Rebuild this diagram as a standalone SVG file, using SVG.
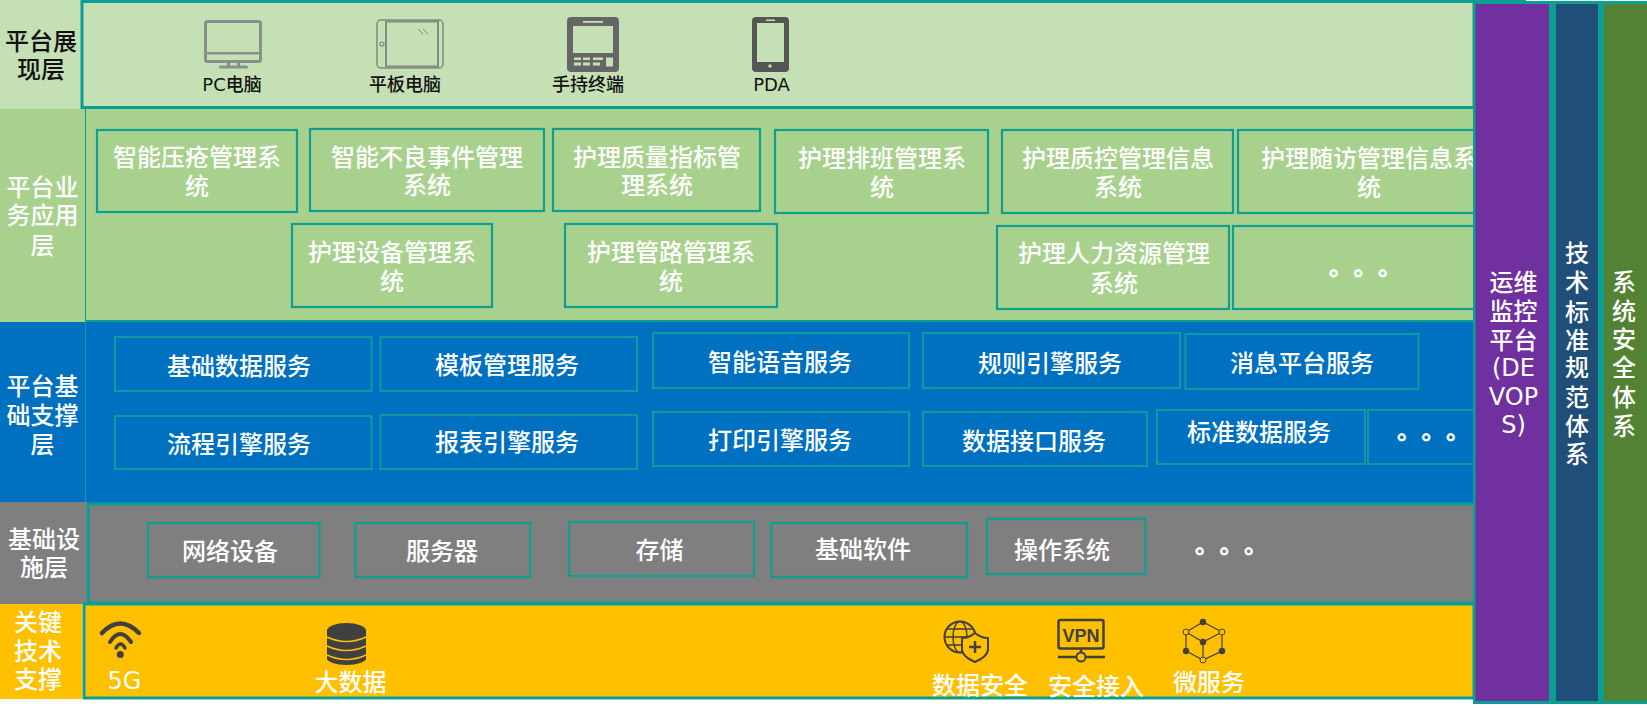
<svg xmlns="http://www.w3.org/2000/svg" width="1647" height="708" viewBox="0 0 1647 708">
<style>
text{font-family:"Noto Sans CJK SC","Noto Sans",sans-serif;text-anchor:middle;font-size:24px;fill:#fff;font-weight:500}
.d{fill:#111}
.s{font-size:18px;fill:#111}
.lat{font-family:"DejaVu Sans","Noto Sans CJK SC",sans-serif}
.dots{text-anchor:start;text-spacing-trim:space-all;letter-spacing:.5px;stroke:#fff;stroke-width:.7px}
.b{fill:none;stroke:#0f9f90;stroke-width:2.200}
.c{fill:none;stroke:#0f9aa0;stroke-width:2}
.p{stroke:#0a9f92;stroke-width:3}
.g1{fill:none;stroke:#86918a;stroke-width:3}
.k{fill:#404040}
.ks{fill:none;stroke:#404040;stroke-linecap:round}
</style>
<rect width="1647" height="708" fill="#fff"/>
<g id="layer-display">
<rect x="0" y="0" width="82" height="109" fill="#c5e0b4"/>
<rect x="82" y="1.500" width="1392" height="106" fill="#c5e0b4" class="p"/>
<text class="d"><tspan x="41" y="50">平台展</tspan><tspan x="41" y="78">现层</tspan></text>
</g>
<g id="layer-app">
<rect x="0" y="109" width="1474" height="213" fill="#a9d18e"/>
<rect x="85" y="109" width="1" height="213" fill="#0f9f90"/>
<rect x="85" y="320" width="1389" height="3" fill="#0a9f92"/>
<text><tspan x="42.500" y="196">平台业</tspan><tspan x="42.500" y="224">务应用</tspan><tspan x="42.500" y="254">层</tspan></text>
</g>
<g id="layer-base">
<rect x="0" y="322" width="1474" height="181" fill="#0070c0"/>
<rect x="85" y="322" width="1" height="181" fill="#0f9f90"/>
<text><tspan x="42.500" y="395">平台基</tspan><tspan x="42.500" y="424">础支撑</tspan><tspan x="42.500" y="453">层</tspan></text>
</g>
<g id="layer-infra">
<rect x="0" y="502" width="87" height="102" fill="#7f7f7f"/>
<rect x="88.500" y="504" width="1386" height="99" fill="#7f7f7f" class="p"/>
<text><tspan x="44" y="548">基础设</tspan><tspan x="44" y="576">施层</tspan></text>
</g>
<g id="layer-tech">
<rect x="0" y="604" width="82" height="95" fill="#ffc000"/>
<rect x="84" y="604" width="1390" height="94" fill="#ffc000" class="p"/>
<text><tspan x="38" y="631">关键</tspan><tspan x="38" y="660">技术</tspan><tspan x="38" y="688">支撑</tspan></text>
</g>

<g id="device-pc">
<rect x="205.500" y="21.500" width="55" height="40" rx="2" class="g1"/>
<rect x="205" y="52" width="56" height="2.500" fill="#86918a"/>
<rect x="227" y="62" width="3" height="5" fill="#86918a"/><rect x="237" y="62" width="3" height="5" fill="#86918a"/>
<rect x="219" y="65.500" width="29" height="3" rx="1.500" fill="#86918a"/>
<text class="s lat" x="232" y="91">PC电脑</text>
</g>
<g id="device-tablet">
<rect x="377" y="20" width="66" height="48" rx="4" fill="none" stroke="#7f8a80" stroke-width="1.500"/>
<rect x="386" y="21.500" width="52" height="45" fill="none" stroke="#7f8a80" stroke-width="2"/>
<circle cx="382" cy="44" r="2" fill="none" stroke="#7f8a80" stroke-width="1.200"/>
<path d="M418 29l5 5M423 29l5 5" stroke="#7f8a80" stroke-width="1" fill="none"/>
<text class="s" x="405" y="91">平板电脑</text>
</g>
<g id="device-handheld">
<path fill="#666" fill-rule="evenodd" d="M571 17h44a4 4 0 0 1 4 4v47a4 4 0 0 1-4 4h-44a4 4 0 0 1-4-4v-47a4 4 0 0 1 4-4zM573 26v27h40v-27z"/>
<rect x="583" y="21" width="20" height="1.800" fill="#c5e0b4"/>
<g fill="#c5e0b4"><rect x="574" y="57.500" width="7" height="2.500"/><rect x="583" y="57.500" width="7" height="2.500"/><rect x="593" y="57.500" width="10" height="2.500"/><rect x="574" y="62.500" width="7" height="3"/><rect x="583" y="62.500" width="7" height="3"/><rect x="593" y="62.500" width="7" height="3"/><rect x="606" y="57.500" width="7" height="9"/></g>
<text class="s" x="588" y="91">手持终端</text>
</g>
<g id="device-pda">
<path fill="#555" fill-rule="evenodd" d="M756 17h29a4 4 0 0 1 4 4v47a4 4 0 0 1-4 4h-29a4 4 0 0 1-4-4v-47a4 4 0 0 1 4-4zM757 23v39h27v-39z"/>
<rect x="766" y="19.500" width="9" height="1.500" fill="#c5e0b4"/>
<circle cx="770" cy="66" r="1.700" fill="#c5e0b4"/>
<text class="s lat" x="771.500" y="91">PDA</text>
</g>

<g id="app-1"><rect x="97" y="130" width="200" height="82" class="b"/><text><tspan x="197" y="166">智能压疮管理系</tspan><tspan x="197" y="195">统</tspan></text></g>
<g id="app-2"><rect x="310" y="129" width="234" height="82" class="b"/><text><tspan x="427" y="166">智能不良事件管理</tspan><tspan x="427" y="194">系统</tspan></text></g>
<g id="app-3"><rect x="553" y="129" width="207" height="82" class="b"/><text><tspan x="657" y="166">护理质量指标管</tspan><tspan x="657" y="194">理系统</tspan></text></g>
<g id="app-4"><rect x="775" y="130" width="213" height="83" class="b"/><text><tspan x="882" y="167">护理排班管理系</tspan><tspan x="882" y="196">统</tspan></text></g>
<g id="app-5"><rect x="1002" y="130" width="231" height="83" class="b"/><text><tspan x="1118" y="167">护理质控管理信息</tspan><tspan x="1118" y="196">系统</tspan></text></g>
<g id="app-6"><rect x="1238" y="130" width="240" height="83" class="b"/><text><tspan x="1369" y="167">护理随访管理信息系</tspan><tspan x="1369" y="196">统</tspan></text></g>
<g id="app-7"><rect x="292" y="224" width="200" height="83" class="b"/><text><tspan x="392" y="261">护理设备管理系</tspan><tspan x="392" y="290">统</tspan></text></g>
<g id="app-8"><rect x="565" y="224" width="212" height="83" class="b"/><text><tspan x="671" y="261">护理管路管理系</tspan><tspan x="671" y="290">统</tspan></text></g>
<g id="app-9"><rect x="997" y="226" width="232" height="83" class="b"/><text><tspan x="1114" y="262">护理人力资源管理</tspan><tspan x="1114" y="292">系统</tspan></text></g>
<g id="app-10"><rect x="1233" y="226" width="245" height="83" class="b"/><text class="dots" x="1329" y="275">。。。</text></g>

<g id="svc-1"><rect x="115" y="337" width="256.500" height="54" class="c"/><text x="239" y="375">基础数据服务</text></g>
<g id="svc-2"><rect x="380.500" y="337" width="256.500" height="54" class="c"/><text x="507" y="374">模板管理服务</text></g>
<g id="svc-3"><rect x="653" y="333" width="256" height="55" class="c"/><text x="780" y="371">智能语音服务</text></g>
<g id="svc-4"><rect x="923" y="333" width="257" height="55" class="c"/><text x="1050" y="372">规则引擎服务</text></g>
<g id="svc-5"><rect x="1185.500" y="334" width="233" height="55" class="c"/><text x="1302" y="372">消息平台服务</text></g>
<g id="svc-6"><rect x="115" y="416" width="256.500" height="53" class="c"/><text x="239" y="453">流程引擎服务</text></g>
<g id="svc-7"><rect x="380.500" y="415" width="256.500" height="54" class="c"/><text x="507" y="451">报表引擎服务</text></g>
<g id="svc-8"><rect x="653" y="412" width="256" height="54" class="c"/><text x="780" y="449">打印引擎服务</text></g>
<g id="svc-9"><rect x="923" y="412" width="224" height="54" class="c"/><text x="1034" y="450">数据接口服务</text></g>
<g id="svc-10"><rect x="1157" y="410" width="208" height="54" class="c"/><text x="1259" y="441">标准数据服务</text></g>
<g id="svc-11"><rect x="1368" y="410" width="110" height="54" class="c"/><text class="dots" x="1397" y="439">。。。</text></g>

<g id="infra-1"><rect x="148" y="523" width="171.500" height="54" class="b"/><text x="230" y="560">网络设备</text></g>
<g id="infra-2"><rect x="355.500" y="523" width="174.500" height="54" class="b"/><text x="442" y="560">服务器</text></g>
<g id="infra-3"><rect x="569" y="522" width="185" height="54" class="b"/><text x="659.500" y="559">存储</text></g>
<g id="infra-4"><rect x="771.500" y="523" width="195.500" height="54" class="b"/><text x="863" y="558">基础软件</text></g>
<g id="infra-5"><rect x="987" y="519" width="158.500" height="55" class="b"/><text x="1062" y="559">操作系统</text></g>
<g id="infra-6"><text class="dots" x="1195" y="553">。。。</text></g>

<g id="tech-5g">
<path class="ks" stroke-width="4.500" d="M102 633Q120 614 139 633"/>
<path class="ks" stroke-width="4" d="M110 642Q120 626 131 642"/>
<path class="ks" stroke-width="3.500" d="M116 648Q120.500 640 125 648"/>
<circle cx="120.300" cy="654.500" r="3.500" class="k"/>
<text class="lat" x="124.500" y="689">5G</text>
</g>
<g id="tech-bigdata">
<rect x="327" y="630" width="39" height="30" class="k"/>
<ellipse cx="346.500" cy="630.500" rx="19.500" ry="7.500" class="k"/>
<ellipse cx="346.500" cy="658" rx="19.500" ry="7" class="k"/>
<path d="M327 637Q346.500 646 366 637M327 646Q346.500 655 366 646M327 655Q346.500 664 366 655" fill="none" stroke="#ffc000" stroke-width="1.600"/>
<text x="350.500" y="691">大数据</text>
</g>
<g id="tech-security">
<circle cx="960" cy="637" r="15.500" fill="none" stroke="#404040" stroke-width="2"/>
<ellipse cx="960" cy="637" rx="7" ry="15.500" fill="none" stroke="#404040" stroke-width="1.500"/>
<path d="M944.500 637H976M947 629H973M947 645H973" fill="none" stroke="#404040" stroke-width="1.500"/>
<path d="M975 633Q981 638 988 638V650Q987 657 975 662Q963 657 962 650V638Q969 638 975 633Z" fill="#ffc000" stroke="#404040" stroke-width="2"/>
<path d="M975 641V653M969 647H981" stroke="#404040" stroke-width="2.500" fill="none"/>
<text x="980" y="694">数据安全</text>
</g>
<g id="tech-vpn">
<rect x="1058.500" y="620" width="45" height="28.500" rx="2" fill="none" stroke="#404040" stroke-width="2.500"/>
<text x="1081" y="642" style="font-family:'Liberation Sans',sans-serif;font-size:18px;font-weight:bold;fill:#404040">VPN</text>
<path d="M1081 649V653M1058 657H1076M1086 657H1105" stroke="#404040" stroke-width="2.500" fill="none"/>
<circle cx="1081" cy="657" r="4.500" fill="none" stroke="#404040" stroke-width="2"/>
<text x="1096" y="695">安全接入</text>
</g>
<g id="tech-micro">
<path d="M1203 622L1186 632V651L1203 660L1222 651V632ZM1186 632L1203 642L1222 632M1203 642V660" fill="none" stroke="#404040" stroke-width="1.200"/>
<circle cx="1203" cy="622" r="3.200" class="k"/><circle cx="1203" cy="642" r="3.200" class="k"/><circle cx="1186" cy="651" r="3.200" class="k"/><circle cx="1222" cy="651" r="3.200" class="k"/>
<g fill="#ffc000" stroke="#404040" stroke-width="1"><circle cx="1186" cy="632" r="3"/><circle cx="1222" cy="632" r="3"/><circle cx="1203" cy="660" r="3"/></g>
<text x="1209" y="691">微服务</text>
</g>

<g id="side-columns">
<rect x="1473" y="0" width="174" height="704" fill="#0a9f92"/>
<rect x="1526" y="0" width="121" height="1" fill="#fff"/>
<g id="side-devops">
<rect x="1475.500" y="4" width="73.500" height="697" fill="#7030a0"/>
<text class="lat"><tspan x="1513.500" y="291">运维</tspan><tspan x="1513.500" y="320">监控</tspan><tspan x="1513.500" y="349">平台</tspan><tspan x="1513.500" y="376">(DE</tspan><tspan x="1513.500" y="405">VOP</tspan><tspan x="1513.500" y="433">S)</tspan></text>
</g>
<g id="side-standard">
<rect x="1556" y="4" width="42" height="697" fill="#1f4e79"/>
<text><tspan x="1577" y="262">技</tspan><tspan x="1577" y="291">术</tspan><tspan x="1577" y="321">标</tspan><tspan x="1577" y="349">准</tspan><tspan x="1577" y="376">规</tspan><tspan x="1577" y="406">范</tspan><tspan x="1577" y="435">体</tspan><tspan x="1577" y="463">系</tspan></text>
</g>
<g id="side-security">
<rect x="1604" y="4" width="43" height="697" fill="#548235"/>
<text><tspan x="1624" y="291">系</tspan><tspan x="1624" y="320">统</tspan><tspan x="1624" y="348">安</tspan><tspan x="1624" y="376">全</tspan><tspan x="1624" y="406">体</tspan><tspan x="1624" y="435">系</tspan></text>
</g>
</g>
</svg>
